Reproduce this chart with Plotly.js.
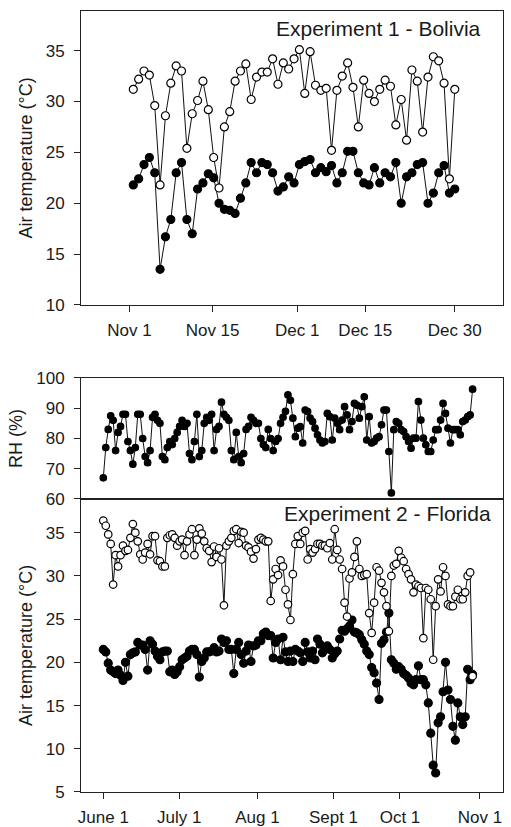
<!DOCTYPE html>
<html>
<head>
<meta charset="utf-8">
<script src="https://cdn.plot.ly/plotly-3.0.1.min.js"></script>
<style>html,body{margin:0;padding:0;background:#fff;}#chart{width:511px;height:827px;}</style>
</head>
<body>
<div id="chart"></div>
<script>
// ---- Experiment 1 - Bolivia (daily, 61 days) ----
const bolTicks = [-0.7, 14.8, 30.6, 43.3, 60];
const bolTickText = ["Nov 1", "Nov 15", "Dec 1", "Dec 15", "Dec 30"];
const bolTmax = [31.2,32.2,33.0,32.6,29.6,21.8,28.6,31.8,33.5,33.0,
  25.4,28.8,30.1,32.0,29.2,24.5,21.5,27.5,29.0,32.0,
  33.0,33.7,30.2,32.4,32.9,32.9,34.2,31.7,33.8,33.2,
  34.2,35.1,30.8,34.9,31.6,31.1,31.3,25.2,31.1,32.5,
  33.8,31.4,27.5,32.1,30.8,30.0,31.2,32.1,31.5,27.7,
  30.2,26.2,33.1,32.0,27.0,32.4,34.4,34.0,31.8,22.4,31.2];
const bolTmin = [21.8,22.4,23.8,24.5,23.0,13.5,16.7,18.4,23.0,24.0,
  18.4,17.0,21.4,22.0,22.9,22.5,20.0,19.4,19.3,19.0,
  20.5,22.0,24.0,23.0,24.0,23.8,23.0,21.2,21.6,22.6,
  22.0,23.8,24.1,24.3,23.0,23.5,23.1,23.7,22.0,23.0,
  25.1,25.1,23.0,22.0,21.8,23.5,22.0,23.0,22.6,24.0,
  20.0,22.6,23.0,23.8,24.0,20.0,21.0,23.0,23.7,21.0,21.4];

// ---- Experiment 2 - Florida (daily from June 1, 151 days) ----
const flTicks = [0, 30.8, 62.6, 93.5, 120.5, 153];
const flTickText = ["June 1", "July 1", "Aug 1", "Sept 1", "Oct 1", "Nov 1"];
const flRH = [67,77,83,87.5,86,76,82,84,88,88,
  79,76,71.5,77,88,88,80,74,72,76,
  87,88,86,85,74,73,77,79,78,80,
  82,84,86,84,85,75,73,79,88,74,
  76,85,87,86,88,76,83,84,92,88,
  87,86,76,73,82,74,72,75,83,84,
  87,86,85,85,80,78,77,83,80,76,
  79,80,85,87,89,94.4,92.6,86.7,80.6,83.4,
  83.9,78.5,89.4,88.9,86.7,85.6,83.4,81.2,79.5,78.5,
  79.0,88.3,87.2,79.5,86.7,85.0,82.9,86.1,90.5,87.8,
  82.9,85.6,91.6,91.0,86.7,90.5,93.8,79.5,87.2,78.5,
  79.0,80.1,80.6,84.5,89.4,89.4,75.7,62,82.9,85.6,
  85.0,82.9,82.3,80.6,79.0,76.8,80.1,80.1,92.2,86.1,
  80.1,77.9,75.7,75.7,79.5,82.9,82.9,86.1,91.6,88.3,
  83.4,78.5,82.9,82.9,82.9,81.2,85.6,86.1,87.2,87.8,
  96.3];
const flTmax = [36.4,35.8,34.8,33.7,29.0,32.4,31.1,32.4,33.5,32.9,
  33.0,34.4,36.0,35.0,34.0,32.5,31.9,32.7,33.7,32.5,
  34.6,34.6,31.8,31.7,31.1,31.1,34.4,34.7,34.8,34.4,
  33.5,34.0,34.2,32.4,34.0,34.8,35.4,32.4,34.2,35.5,
  34.9,34.0,33.2,32.9,31.6,33.4,32.2,33.2,31.9,26.6,
  33.5,34.0,34.4,35.2,35.4,33.8,35.1,35.0,33.5,33.3,
  32.8,32.0,33.1,34.2,34.4,34.2,34.0,34.0,27.1,29.6,
  30.8,30.1,31.8,31.1,28.4,26.7,24.9,30.2,33.7,34.6,
  33.7,35.0,35.2,31.9,33.1,32.7,33.1,33.7,33.7,33.5,
  33.5,33.2,33.8,31.9,35.4,33.0,31.9,30.8,26.9,25.3,
  29.7,30.4,32.2,34.0,30.8,30.0,30.1,30.2,25.7,23.4,
  26.9,31.0,30.6,29.2,28.1,26.5,23.6,30.0,31.2,31.4,
  32.9,32.1,31.7,30.8,30.2,29.6,28.1,29.0,28.8,28.6,
  22.8,28.6,28.4,27.3,20.3,26.5,29.6,28.2,31.0,30.0,
  26.7,26.5,26.5,27.6,28.4,27.3,27.3,28.1,30.0,30.4,
  18.4];
const flTmin = [21.5,21.2,19.9,19.1,18.9,18.7,19.1,18.5,17.9,20.0,
  18.4,20.9,21.1,21.2,22.3,22.0,22.0,21.5,19.1,22.5,
  22.1,21.3,20.7,20.3,21.2,21.3,21.3,18.9,19.1,18.6,
  18.9,19.5,20.3,20.5,20.7,21.3,21.5,21.5,20.9,18.3,
  20.1,20.5,21.2,21.2,21.3,21.7,21.2,21.3,22.7,22.3,
  22.5,21.5,21.5,18.7,21.5,22.3,20.9,19.9,21.3,22.0,
  20.1,21.9,22.0,22.5,22.5,23.3,23.5,23.1,23.1,20.5,
  22.3,22.7,20.3,22.9,21.2,20.1,21.3,20.1,21.5,21.3,
  21.1,20.1,22.3,21.2,20.5,21.3,20.3,22.7,22.1,21.1,
  21.5,21.9,21.5,20.5,21.0,21.3,22.7,23.7,23.6,23.9,
  24.2,24.9,23.5,23.4,23.2,22.6,22.1,21.3,20.9,19.4,
  18.8,17.6,15.7,22.2,22.6,23.5,25.7,20.3,19.9,19.2,
  19.5,19.2,18.7,18.5,18.2,17.6,17.4,18.0,19.6,18.0,
  18.0,17.4,15.3,11.8,8.1,7.2,13.0,13.7,16.6,20.0,
  16.8,15.7,12.6,11.0,15.3,13.7,12.8,13.7,19.2,18.0,
  18.6];

const bolDays = bolTmax.map((_, i) => i);
const flDays = flTmax.map((_, i) => i);

const FONT = "Liberation Sans, Arial, Helvetica, sans-serif";
const INK = "#1a1a1a";

function series(x, y, xa, ya, filled, size) {
  return {
    x: x, y: y, xaxis: xa, yaxis: ya, type: "scatter", mode: "lines+markers",
    line: {color: "#111", width: 1},
    marker: {size: size, color: filled ? "#000" : "#fff", line: {color: "#000", width: 1.2}},
    hoverinfo: "skip", showlegend: false, cliponaxis: false
  };
}

const data = [
  series(bolDays, bolTmin, "x", "y", true, 8),
  series(bolDays, bolTmax, "x", "y", false, 8),
  series(flDays, flRH, "x2", "y2", true, 6.5),
  series(flDays, flTmin, "x3", "y3", true, 8),
  series(flDays, flTmax, "x3", "y3", false, 7.5)
];

const axBase = {
  showline: true, linecolor: "#222", linewidth: 1, mirror: true,
  showgrid: false, zeroline: false,
  ticks: "outside", ticklen: 6, tickwidth: 1, tickcolor: "#222",
  tickfont: {family: FONT, size: 17, color: INK}
};
const ttl = (t) => ({text: t, font: {family: FONT, size: 18, color: INK}, standoff: 8});

const layout = {
  width: 511, height: 827,
  margin: {l: 81, r: 8, t: 11, b: 35},
  paper_bgcolor: "#fff", plot_bgcolor: "#fff",
  font: {family: FONT, color: INK},
  xaxis: Object.assign({}, axBase, {anchor: "y", domain: [0, 1], range: [-9.76, 69],
    tickmode: "array", tickvals: bolTicks, ticktext: bolTickText, ticklabelstandoff: 4}),
  yaxis: Object.assign({}, axBase, {anchor: "x", domain: [0.6236, 1], range: [10, 38.9],
    tickmode: "array", tickvals: [10, 15, 20, 25, 30, 35], ticklabelstandoff: 6,
    title: ttl("Air temperature (°C)")}),
  xaxis2: Object.assign({}, axBase, {anchor: "y2", domain: [0, 1], range: [-9.06, 162.35],
    ticks: "", showticklabels: false}),
  yaxis2: Object.assign({}, axBase, {anchor: "x2", domain: [0.3752, 0.5301], range: [60, 100],
    tickmode: "array", tickvals: [60, 70, 80, 90, 100], ticklabelstandoff: 6,
    title: ttl("RH (%)")}),
  xaxis3: Object.assign({}, axBase, {anchor: "y3", domain: [0, 1], range: [-9.06, 162.35],
    tickmode: "array", tickvals: flTicks, ticktext: flTickText, ticklabelstandoff: 4}),
  yaxis3: Object.assign({}, axBase, {anchor: "x3", domain: [0, 0.3752], range: [5, 38.9],
    tickmode: "array", tickvals: [5, 10, 15, 20, 25, 30, 35], ticklabelstandoff: 6,
    title: ttl("Air temperature (°C)")}),
  annotations: [
    {text: "Experiment 1 - Bolivia", xref: "paper", yref: "paper", x: 0.9526, y: 0.978,
     xanchor: "right", yanchor: "middle", showarrow: false,
     font: {family: FONT, size: 21, color: INK}},
    {text: "Experiment 2 - Florida", xref: "paper", yref: "paper", x: 0.976, y: 0.357,
     xanchor: "right", yanchor: "middle", showarrow: false,
     font: {family: FONT, size: 21, color: INK}}
  ]
};

Plotly.newPlot("chart", data, layout, {displayModeBar: false, staticPlot: true});
</script>
</body>
</html>
